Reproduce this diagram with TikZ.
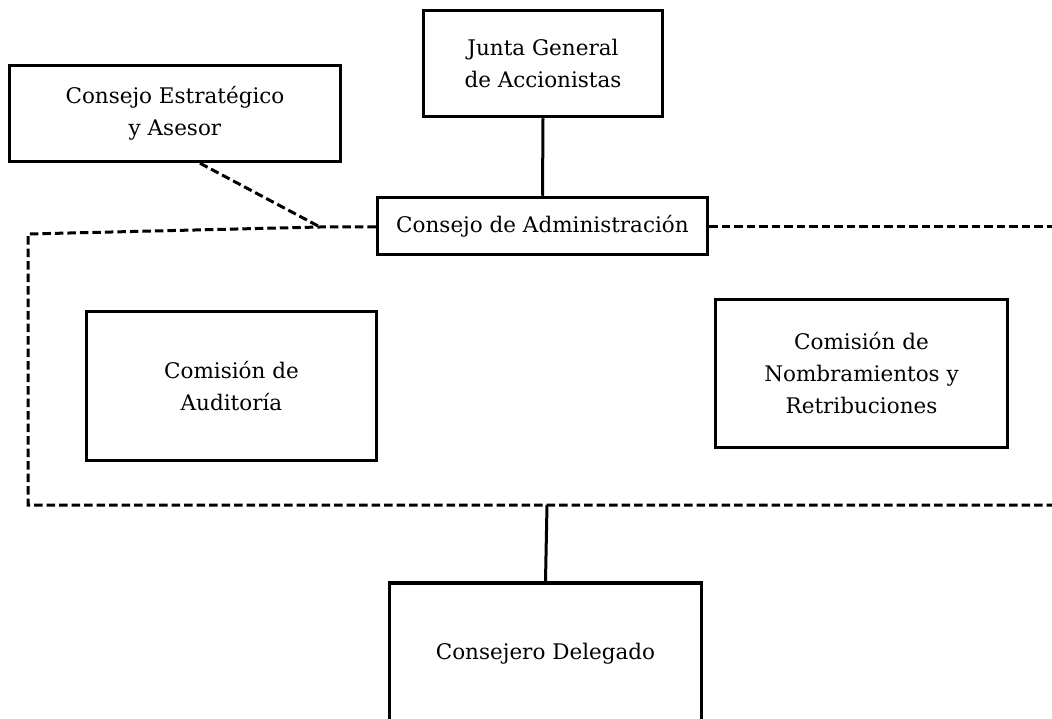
\documentclass[tikz,border=0pt]{standalone}
\usepackage{fontspec}
\setmainfont{DejaVu Serif}
\begin{document}
\begin{tikzpicture}[x=1pt,y=-1pt,
  box/.style={draw,line width=3.5pt,align=center,inner sep=0pt,font=\fontsize{21.5}{32}\selectfont},
  dashline/.style={line width=3pt,dash pattern=on 8.5pt off 4pt},
  solidline/.style={line width=3pt}]
\useasboundingbox (0,0) rectangle (1052,719);
\node[box,minimum width=331pt,minimum height=96pt] (ce) at (175,113.5) {Consejo Estratégico\\y Asesor};
\node[box,minimum width=239pt,minimum height=106pt] (ju) at (543,63.5) {Junta General\\de Accionistas};
\node[box,minimum width=330pt,minimum height=57pt] (ca) at (542.5,226) {Consejo de Administración};
\node[box,minimum width=290pt,minimum height=149pt] (au) at (231.5,386) {Comisión de\\Auditoría};
\node[box,minimum width=292pt,minimum height=148pt] (nr) at (861.5,373.5) {Comisión de\\Nombramientos y\\Retribuciones};
\node[box,minimum width=312pt,minimum height=142pt] (cd) at (545.5,654) {Consejero Delegado};
\coordinate (j1) at (320,227);
\coordinate (tl) at (28,234);
\coordinate (bl) at (28,505);
\coordinate (br) at (1053,505);
\coordinate (tr) at (1053,227);
\coordinate (bm) at (547,505);
\draw[solidline] (ju.south) -- (ca.north);
\draw[dashline] (ca.west |- j1) -- (j1) -- (tl) -- (bl) -- (br);
\draw[dashline] (ca.east |- tr) -- (tr);
\draw[dashline] ([xshift=25pt]ce.south) -- (j1);
\draw[solidline] (bm) -- (cd.north);
\end{tikzpicture}
\end{document}
